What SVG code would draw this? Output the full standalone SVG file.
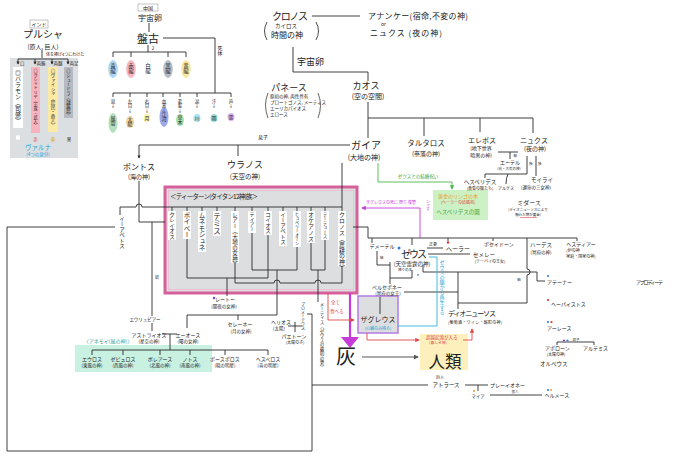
<svg xmlns="http://www.w3.org/2000/svg" width="680" height="460" viewBox="0 0 680 460">
<defs>
<style>
text{font-family:"Noto Sans CJK JP","Noto Sans",sans-serif;fill:#222}
.m{text-anchor:middle}
.v{writing-mode:vertical-rl;text-orientation:upright}
.ln{fill:none;stroke:#2b2b2b;stroke-width:0.9}
.strip{fill:#fff}
.red{fill:#e04848}
.cy{fill:#1fa6d6}
.mg{fill:#c63ad8}
.gr{fill:#3fa63f}
</style>
<marker id="ah" viewBox="0 0 6 6" refX="5" refY="3" markerWidth="5" markerHeight="5" orient="auto"><path d="M0,0 L6,3 L0,6 z" fill="#2b2b2b"/></marker>
<marker id="ahs" viewBox="0 0 6 6" refX="5" refY="3" markerWidth="3.5" markerHeight="3.5" orient="auto"><path d="M0,0 L6,3 L0,6 z" fill="#2b2b2b"/></marker>
<marker id="ahR" viewBox="0 0 6 6" refX="5" refY="3" markerWidth="5" markerHeight="5" orient="auto"><path d="M0,0 L6,3 L0,6 z" fill="#e04848"/></marker>
<marker id="ahG" viewBox="0 0 6 6" refX="5" refY="3" markerWidth="5" markerHeight="5" orient="auto"><path d="M0,0 L6,3 L0,6 z" fill="#4cb84c"/></marker>
<marker id="ahM" viewBox="0 0 6 6" refX="5" refY="3" markerWidth="5" markerHeight="5" orient="auto"><path d="M0,0 L6,3 L0,6 z" fill="#c63ad8"/></marker>
<marker id="ahK" viewBox="0 0 6 6" refX="5" refY="3" markerWidth="5" markerHeight="5" orient="auto"><path d="M0,0 L6,3 L0,6 z" fill="#555"/></marker>
</defs>
<rect width="680" height="460" fill="#fff"/>

<!-- ===== backgrounds ===== -->
<rect x="10" y="58" width="68" height="100" fill="#dcdfe2"/>
<rect x="165" y="187" width="192" height="106" fill="#dcdee0" stroke="#d5609a" stroke-width="3"/>
<rect x="168.5" y="190.5" width="185" height="99" fill="none" stroke="#f2b8d4" stroke-width="0.8"/>
<rect x="75" y="345" width="137" height="27" fill="#c9f1e1"/>
<rect x="433" y="190" width="55" height="30" fill="#ccf1c4"/>
<rect x="420" y="334" width="48" height="36" fill="#fdf0bd"/>
<rect x="358" y="296" width="40" height="37" fill="#dcdee0" stroke="#b27be6" stroke-width="1.5"/>

<!-- ===== connectors ===== -->
<g id="connectors">
<path class="ln" d="M42 50 V58"/>
<path class="ln" d="M18 59 H68 V64" marker-end="url(#ahs)"/>
<path class="ln" d="M18 59 V64" marker-end="url(#ahs)"/>
<path class="ln" d="M35 59 V64" marker-end="url(#ahs)"/>
<path class="ln" d="M52 59 V64" marker-end="url(#ahs)"/>
<path class="ln" d="M149 23 V32"/>
<path class="ln" d="M163 38 H215 V93"/>
<path class="ln" d="M148 45 V52 M113 57 V52 H186 V57 M131 52 V57 M168 52 V57"/>
<path class="ln" d="M113 97 V93 H231 V97 M130 93 V97 M147 93 V97 M163 93 V97 M180 93 V97 M197 93 V97"/>
<path class="ln" d="M312 16 H360"/>
<path class="ln" d="M293 47 V72 H368 V81"/>
<path class="ln" d="M368 102 V138"/>
<path class="ln" d="M368 118 H533 M424 118 V136 M480 118 V132 M533 118 V133"/>
<path class="ln" d="M498 152 H518 M510 152 V159"/>
<path class="ln" d="M527 156 V174 H485 V178 M508 174 Q506 178 506 184 M536 156 V176"/>
<path class="ln" d="M350 145 H139 V158" marker-end="url(#ahs)"/>
<path class="ln" d="M238 145 V156"/>
<path class="ln" d="M342 163 V211"/>
<path d="M378 163 V182 H452 V189" fill="none" stroke="#4cb84c" stroke-width="0.9" marker-end="url(#ahG)"/>
<path class="ln" d="M120 215 V207 H136 A3 3 0 0 1 142 207 H342"/>
<path class="ln" d="M172 207 V211 M187 207 V211 M202 207 V211 M217 207 V211 M235 207 V211 M252 207 V211 M268 207 V211 M283 207 V211 M297 207 V211 M311 207 V211 M325 207 V211"/>
<path class="ln" d="M139 181 V222 H165 M152 222 V316"/>
<path class="ln" d="M115 227 H7 V451 H312 V314 H307"/>
<path class="ln" d="M312 385 H428"/>
<path class="ln" d="M187 238 V278 H268 V235 M227 278 V296"/>
<path class="ln" d="M252 228 V270 H297 V245 M277 270 V315 H187 V328 M238 315 V320"/>
<path class="ln" d="M311 242 V270 H325 V238 M318 270 V302"/>
<path class="ln" d="M235 262 V283 H274 A3 3 0 0 1 280 283 H315 A3 3 0 0 1 321 283 H342 V265"/>
<path class="ln" d="M295 322 V332 M288 326 H302"/>
<path class="ln" d="M152 323 V331 M162 334 H177 M170 334 V350"/>
<path class="ln" d="M92 355 V350 H268 V355 M123 350 V355 M160 350 V355 M190 350 V355 M225 350 V355"/>
<path class="ln" d="M353 227 H368 V238 H577"/>
<path class="ln" d="M372 238 V243 M412 238 V245 M448 238 V241 M493 238 V241 M577 238 V241"/>
<path class="ln" d="M527 238 V269 A3 3 0 0 1 527 275 V303 H458"/>
<path class="ln" d="M377 251 V265 H390 M390 262 V284 M412 270 V278 H390"/>
<path class="ln" d="M380 297 V314"/>
<path class="ln" d="M404 292 H458"/>
<path class="ln" d="M427 248 H443"/>
<path class="ln" d="M428 254 H470"/>
<path class="ln" d="M423 265 V272 H537 V281 H545"/>
<path class="ln" d="M458 272 V309"/>
<path class="ln" d="M557 345 V342 H594 V345"/>
<path class="ln" d="M465 385 H488 M478 385 V391 M490 395 H542"/>
<path d="M420 238 V208 H362" fill="none" stroke="#c63ad8" stroke-width="0.9" marker-end="url(#ahM)"/>
<path d="M350 293 V338" fill="none" stroke="#c63ad8" stroke-width="2.2"/>
<polygon points="341,337 359,337 350,348" fill="#c63ad8"/>
<path d="M328 293 V320 H354" fill="none" stroke="#e04848" stroke-width="0.9" marker-end="url(#ahR)"/>
<path d="M367 333 V340 H419" fill="none" stroke="#e04848" stroke-width="0.9" marker-end="url(#ahR)"/>
<path d="M463 340 H472 V329" fill="none" stroke="#e04848" stroke-width="0.9" marker-end="url(#ahR)"/>
<path d="M398 326 H437 V257 H429" fill="none" stroke="#2fb3dc" stroke-width="0.9"/>
<path d="M362 357 H418" fill="none" stroke="#555" stroke-width="1" marker-end="url(#ahK)"/>
</g>

<!-- ===== India ===== -->
<g id="india">
<rect x="30" y="20" width="18" height="8" fill="#fff" stroke="#888" stroke-width="0.5"/>
<text x="39" y="26.3" class="m" font-size="5">インド</text>
<text x="43" y="38" class="m" font-size="10">プルシャ</text>
<text x="43" y="48.5" class="m" font-size="6">(原人, 巨人)</text>
<text x="46" y="55.5" font-size="4">体を捧げ4つにわけた</text>
<text x="20" y="65" font-size="4.5">口</text>
<text x="36.5" y="65" font-size="4.5">両腕</text>
<text x="53.5" y="65" font-size="4.5">両腿</text>
<text x="69.5" y="65" font-size="4.5">両足</text>
<rect x="13" y="67" width="10" height="61" fill="#fff"/>
<rect x="31" y="67" width="9" height="66" fill="#f7b3be"/>
<rect x="48" y="67" width="10" height="65" fill="#fbeaa5"/>
<rect x="64" y="67" width="9" height="51" fill="#b6b9c0"/>
<text x="18" y="70" class="v" font-size="6">◎バラモン（司祭）</text>
<text x="35.5" y="69" class="v" font-size="4.2">◎クシャトリヤ（王族・武人）</text>
<text x="53" y="69" class="v" font-size="4.5">◎ヴァイシャ（庶民・商人）</text>
<text x="68.5" y="69" class="v" font-size="4.4">◎シュードラ（隷属民）</text>
<rect x="16" y="135.5" width="4" height="4" fill="#fff"/>
<text x="35.5" y="140.5" class="m red" font-size="4.5">赤</text>
<text x="53" y="140.5" class="m" font-size="4.5" style="fill:#d9a800">黄</text>
<text x="69" y="140.5" class="m" font-size="4.5">黒</text>
<text x="38" y="150" class="m cy" font-size="6.5">ヴァルナ</text>
<text x="38" y="156" class="m cy" font-size="4.5">(4つの身分)</text>
</g>

<!-- ===== China ===== -->
<g id="china">
<rect x="138" y="4" width="20" height="7" fill="#fff" stroke="#888" stroke-width="0.5"/>
<text x="148" y="9.8" class="m" font-size="5">中国</text>
<text x="150" y="21" class="m" font-size="8">宇宙卵</text>
<text x="148" y="43" class="m" font-size="11">盤古</text>
<text x="153" y="50" class="m" font-size="4.5">2</text>
<text x="220" y="46" class="v" font-size="5">死体</text>
<ellipse cx="113" cy="69" rx="4.8" ry="9" fill="#a9d4f5"/>
<ellipse cx="131" cy="69" rx="4.8" ry="9" fill="#f7b6c2"/>
<ellipse cx="148" cy="69" rx="4.8" ry="9" fill="#fff"/>
<ellipse cx="168" cy="69" rx="4.8" ry="9" fill="#b9bcc4"/>
<ellipse cx="186" cy="69" rx="4.8" ry="9" fill="#fbe7a1"/>
<text x="113" y="63" class="v" font-size="5.5">青龍</text>
<text x="131" y="63" class="v" font-size="5.5">赤龍</text>
<text x="148" y="63" class="v" font-size="5.5">白龍</text>
<text x="168" y="63" class="v" font-size="5.5">黒龍</text>
<text x="186" y="63" class="v" font-size="5.5">黄龍</text>
<ellipse cx="113" cy="123" rx="4.5" ry="10" fill="#b5dfc0"/>
<ellipse cx="130" cy="122" rx="4" ry="6" fill="#f9d49a"/>
<ellipse cx="147" cy="118" rx="3.5" ry="4" fill="#fdf1a6"/>
<ellipse cx="164" cy="117" rx="4.5" ry="10" fill="#9fa8e6"/>
<ellipse cx="180" cy="120" rx="4" ry="6" fill="#a8e2a8"/>
<ellipse cx="197" cy="118" rx="3.5" ry="4" fill="#a6e1f5"/>
<ellipse cx="214" cy="118" rx="3.5" ry="4" fill="#9ad8d0"/>
<ellipse cx="231" cy="117" rx="3.5" ry="4" fill="#d7b3f3"/>
<text x="113" y="99" class="v" font-size="4.5">息↓</text>
<text x="113" y="116" class="v" font-size="5">風雲</text>
<text x="130" y="99" class="v" font-size="4.5">左目↓</text>
<text x="130" y="117" class="v" font-size="5">太陽</text>
<text x="147" y="99" class="v" font-size="4.5">右目↓</text>
<text x="147" y="115.5" class="v" font-size="5">月</text>
<text x="164" y="99" class="v" font-size="4.5">血液↓</text>
<text x="164" y="112" class="v" font-size="5">江河</text>
<text x="180" y="99" class="v" font-size="4.5">毛髪↓</text>
<text x="180" y="115" class="v" font-size="5">草木</text>
<text x="197" y="99" class="v" font-size="4.5">涙↓</text>
<text x="197" y="115.5" class="v" font-size="5">川</text>
<text x="214" y="99" class="v" font-size="4.5">汗↓</text>
<text x="214" y="115.5" class="v" font-size="5">雨</text>
<text x="231" y="99" class="v" font-size="4.5">声↓</text>
<text x="231" y="114.5" class="v" font-size="5">雷</text>
</g>

<!-- ===== Greek primordials ===== -->
<g id="chronos">
<text x="290" y="20" class="m" font-size="10" textLength="36">クロノス</text>
<path d="M267 22 Q262 31 267 40 M316 22 Q321 31 316 40" fill="none" stroke="#222" stroke-width="0.8"/>
<text x="286" y="28" class="m" font-size="5.5">カイロス</text>
<text x="287" y="38" class="m" font-size="8">時間の神</text>
</g>
<g id="ananke">
<text x="368" y="19" font-size="8" textLength="100">アナンケー(宿命,不変の神)</text>
<text x="381" y="25.5" font-size="5">or</text>
<text x="370" y="36" font-size="8" textLength="72">ニュクス (夜の神)</text>
</g>
<text x="297" y="65" font-size="9">宇宙卵</text>
<g id="phanes">
<text x="289" y="91" class="m" font-size="9">パネース</text>
<path d="M268 93 Q263 105 268 118 M318 93 Q323 105 318 118" fill="none" stroke="#222" stroke-width="0.7"/>
<text x="270" y="98" font-size="4.5">原初の神, 両性具有</text>
<text x="270" y="104" font-size="4.5">プロートゴノス, メーティス</text>
<text x="270" y="110" font-size="4.5">エーリカパイオス</text>
<text x="270" y="116" font-size="4.5">エロース</text>
</g>
<g id="chaos">
<text x="366" y="89" class="m" font-size="9">カオス</text>
<text x="368" y="99" class="m" font-size="7">(空の空間)</text>
</g>
<g id="tartaros">
<text x="426" y="146" class="m" font-size="7.5">タルタロス</text>
<text x="426" y="156" class="m" font-size="6">(奈落の神)</text>
</g>
<g id="erebos">
<text x="482" y="143" class="m" font-size="7">エレボス</text>
<text x="481" y="150" class="m" font-size="5">(地下世界</text>
<text x="481" y="156.5" class="m" font-size="5">暗黒の神)</text>
</g>
<g id="nyx">
<text x="534" y="143" class="m" font-size="7">ニュクス</text>
<text x="535" y="151" class="m" font-size="6">(夜の神)</text>
<text x="513.5" y="157" font-size="3.5">結</text>
<text x="529" y="165" font-size="3.5">独</text>
<text x="538" y="165" font-size="3.5">独</text>
</g>
<g id="aether">
<text x="510" y="164" class="m" font-size="5">エーテル</text>
<text x="509" y="170" class="m" font-size="3.5">(光・大気の神)</text>
</g>
<g id="hesperides">
<text x="480" y="184" class="m" font-size="5.5">ヘスペリデス</text>
<text x="480" y="190" class="m" font-size="4">(黄昏の娘たち)</text>
</g>
<text x="506" y="190" class="m" font-size="4">アルゲス</text>
<g id="moirai">
<text x="542" y="182" class="m" font-size="5.5">モイライ</text>
<text x="536" y="189" class="m" font-size="4.5">(運命の三女神)</text>
</g>
<g id="midas">
<text x="529" y="205" class="m" font-size="6">ミダース</text>
<text x="528" y="211" class="m" font-size="3.5">(ディオニューソスにより</text>
<text x="528" y="216" class="m" font-size="3.5">触れた物が黄金)</text>
<path d="M520 217.5 H537" stroke="#e04848" stroke-width="0.6"/>
</g>
<g id="gaia">
<text x="366" y="149" class="m" font-size="10">ガイア</text>
<text x="364" y="160" class="m" font-size="7">(大地の神)</text>
<text x="418" y="178" class="m gr" font-size="4.5">ゼウスとの結婚祝い</text>
</g>
<g id="garden">
<text x="458" y="198" class="m" font-size="5" style="fill:#ee9a20">黄金のリンゴの木</text>
<text x="458" y="204" class="m red" font-size="4">(ヘーラーの結婚祝)</text>
<text x="458" y="214" class="m gr" font-size="5.5">ヘスペリデスの園</text>
</g>
<text x="263" y="139" class="m" font-size="5">息子</text>
<g id="pontos">
<text x="139" y="170" class="m" font-size="8">ポントス</text>
<text x="139" y="178.5" class="m" font-size="6">(海の神)</text>
</g>
<g id="ouranos">
<text x="245" y="167.5" class="m" font-size="9">ウラノス</text>
<text x="245" y="178.5" class="m" font-size="6.5">(天空の神)</text>
</g>

<!-- ===== Titans ===== -->
<g id="titans">
<text x="170" y="199" font-size="6.5" textLength="88">＜ティーターン(タイタン12神)族＞</text>
<rect x="168" y="211" width="8" height="29" class="strip"/>
<rect x="183" y="211" width="8" height="28" class="strip"/>
<rect x="198" y="211" width="8" height="41" class="strip"/>
<rect x="213" y="211" width="8" height="25" class="strip"/>
<rect x="231" y="211" width="8" height="52" class="strip"/>
<rect x="248" y="211" width="8" height="22" class="strip"/>
<rect x="264" y="211" width="8" height="24" class="strip"/>
<rect x="279" y="211" width="8" height="35" class="strip"/>
<rect x="293" y="211" width="8" height="36" class="strip"/>
<rect x="307" y="211" width="8" height="32" class="strip"/>
<rect x="321" y="211" width="8" height="29" class="strip"/>
<rect x="338" y="211" width="8" height="55" class="strip"/>
<text x="172" y="212" class="v" font-size="5.5">クレイオス</text>
<text x="187" y="212" class="v" font-size="6.5">ポイベー</text>
<text x="202" y="212" class="v" font-size="6.5">ムネモシュネ</text>
<text x="217" y="212" class="v" font-size="7.5">テミス</text>
<text x="235" y="212" class="v" font-size="5.5">レアー（大地の女神）</text>
<text x="252" y="212" class="v" font-size="5">テイアー</text>
<text x="268" y="212" class="v" font-size="5.5">コイオス</text>
<text x="283" y="212" class="v" font-size="5.5">イーアペトス</text>
<text x="297" y="212" class="v" font-size="4.2">ヒュペリーオーン</text>
<text x="311" y="212" class="v" font-size="6">オケアノス</text>
<text x="325" y="212" class="v" font-size="4.5">テーテュース</text>
<text x="342" y="212" class="v" font-size="5.9">クロノス（農耕の神）</text>
</g>
<g id="iapetos">
<text x="122" y="216" class="v" font-size="5.5">イーアペトス</text>
</g>
<text x="157" y="279" class="m" font-size="4">結</text>

<!-- ===== second generation ===== -->
<g id="leto">
<circle cx="214" cy="298" r="1.2" fill="#7a3ad8"/>
<text x="225" y="301" class="m" font-size="5">レートー</text>
<text x="224" y="308" class="m" font-size="4.5">(闇夜の女神)</text>
</g>
<g id="helios">
<text x="281" y="324" class="m" font-size="5">ヘリオス</text>
<text x="279" y="330" class="m" font-size="4.5">(太陽)</text>
</g>
<g id="phaethon">
<text x="294" y="338" class="m" font-size="5">パエトーン</text>
<text x="295" y="344" class="m" font-size="4">(太陽の子)</text>
</g>
<g id="selene">
<text x="240" y="326" class="m" font-size="5">セレーネー</text>
<text x="241" y="333" class="m" font-size="4.5">(月の女神)</text>
</g>
<g id="eos">
<text x="188" y="337" class="m" font-size="5">エーオース</text>
<text x="188" y="343" class="m" font-size="4.5">(曙の女神)</text>
</g>
<g id="astraios">
<text x="149" y="337" class="m" font-size="5">アストライオス</text>
<text x="149" y="343" class="m" font-size="4.5">(星空の神)</text>
</g>
<g id="eurybia"><text x="145" y="321" class="m" font-size="4.5">エウリュビアー</text></g>
<g id="anemoi">
<text x="108" y="343" class="m" font-size="5" style="fill:#2f9e98">〈アネモイ(風の神)〉</text>
<text x="92" y="361" class="m" font-size="5">エウロス</text>
<text x="92" y="367" class="m" font-size="4.5">(東風の神)</text>
<text x="123" y="361" class="m" font-size="5">ゼピュロス</text>
<text x="123" y="367" class="m" font-size="4.5">(西風の神)</text>
<text x="160" y="361" class="m" font-size="5">ボレアース</text>
<text x="160" y="367" class="m" font-size="4.5">(北風の神)</text>
<text x="190" y="361" class="m" font-size="5">ノトス</text>
<text x="190" y="367" class="m" font-size="4.5">(南風の神)</text>
</g>
<g id="phosphoros">
<text x="225" y="361" class="m" font-size="5">ポースポロス</text>
<text x="225" y="367" class="m" font-size="4.5">(暁の明星)</text>
</g>
<g id="hesperos">
<text x="268" y="361" class="m" font-size="5">ヘスペロス</text>
<text x="268" y="367" class="m" font-size="4.5">(宵の明星)</text>
</g>
<g id="prometheus"><text x="303" y="302" class="v" font-size="4">プロメーテウス</text></g>
<g id="metis"><text x="322" y="302" class="v" font-size="4.5">メーティス（ゼウスの最初の妻）</text></g>
<g id="atlas">
<text x="440" y="379" class="m" font-size="4">巨人</text>
<text x="446" y="387" class="m" font-size="5.5">アトラース</text>
</g>
<g id="pleione"><text x="490" y="387" font-size="5">プレーイオネー</text></g>
<g id="maia">
<circle cx="474" cy="391" r="1.1" fill="#f0a030"/>
<text x="478" y="398" class="m" font-size="4.5">マイア</text>
<text x="515" y="393" class="m" font-size="3.5">恋人</text>
</g>
<g id="hermes">
<circle cx="548" cy="390" r="1.1" fill="#2f7fe0"/>
<circle cx="551" cy="390" r="1.1" fill="#f0a030"/>
<text x="557" y="397" class="m" font-size="5">ヘルメース</text>
</g>

<!-- ===== Olympians ===== -->
<g id="demeter">
<text x="382" y="248" class="m" font-size="5">デメーテル</text>
<text x="380" y="259" font-size="3.5">結</text>
</g>
<g id="zeus">
<circle cx="399" cy="248" r="1.5" fill="#2f7fe0"/>
<text x="414" y="258" class="m" font-size="10" textLength="26">ゼウス</text>
<text x="412" y="265.5" class="m" font-size="5.5">(天空雷霆の神)</text>
<text x="405" y="271" class="m" font-size="3.5">神々の王</text>
<text x="418" y="278" class="m" font-size="5">*</text>
</g>
<g id="hera">
<text x="433" y="246" class="m" font-size="4">正妻</text>
<circle cx="448" cy="242.5" r="1.2" fill="#e03030"/>
<text x="446" y="251" font-size="6">ヘーラー</text>
</g>
<g id="semele">
<text x="473" y="257" font-size="5.5">セメレー</text>
<text x="490" y="263" class="m" font-size="4">(テーバイの王女)</text>
</g>
<g id="poseidon"><text x="499" y="246" class="m" font-size="5">ポセイドーン</text></g>
<g id="hades">
<text x="541" y="247" class="m" font-size="5.5">ハーデス</text>
<text x="541" y="254" class="m" font-size="4.5">(冥府の神)</text>
<text x="519" y="281" class="m" font-size="3.5">結</text>
</g>
<g id="hestia">
<text x="581" y="246" class="m" font-size="5">ヘスティアー</text>
<text x="573" y="252" class="m" font-size="4">(炉の神</text>
<text x="581" y="257.5" class="m" font-size="4">家庭・国家の神)</text>
</g>
<g id="persephone">
<text x="387" y="289" class="m" font-size="5">ペルセポネー</text>
<text x="388" y="295" class="m" font-size="4.5">(冥府の女王)</text>
</g>
<g id="dionysos">
<text x="448" y="316" font-size="7" textLength="48">ディオニューソス</text>
<text x="448" y="324" font-size="4" textLength="54">(葡萄酒・ワイン・酩酊の神)</text>
</g>
<g id="athena">
<circle cx="548" cy="276" r="1.1" fill="#2f7fe0"/>
<text x="547" y="284" font-size="5">アテーナー</text>
</g>
<g id="aphrodite"><text x="636" y="284" font-size="5" textLength="27">アプロディーテ</text></g>
<g id="hephaistos">
<circle cx="548" cy="300" r="1.1" fill="#e03030"/>
<text x="551" y="306" font-size="5">ヘーパイストス</text>
</g>
<g id="ares">
<circle cx="548" cy="322" r="1.1" fill="#2f7fe0"/>
<circle cx="551.5" cy="322" r="1.1" fill="#e03030"/>
<text x="547" y="330" font-size="5">アーレース</text>
</g>
<g id="twins">
<circle cx="564" cy="340.5" r="1.1" fill="#7a3ad8"/>
<circle cx="567.5" cy="340.5" r="1.1" fill="#2f7fe0"/>
<text x="576" y="340.5" class="m" font-size="3.5">双子</text>
</g>
<g id="apollon">
<text x="545" y="350" font-size="5">アポローン</text>
<text x="556" y="356" class="m" font-size="4">(太陽の神)</text>
</g>
<g id="artemis"><text x="583" y="350" font-size="5">アルテミス</text></g>
<g id="orpheus"><text x="540" y="366" font-size="5.5">オルペウス</text></g>

<!-- ===== Orphic story ===== -->
<g id="revenge">
<text x="366" y="204" class="mg" font-size="4" textLength="50">ザグレウスの死に 怒り 復讐</text>
<text x="428" y="199" class="v mg" font-size="4">シャす</text>
</g>
<g id="eat">
<text x="331" y="304" class="red" font-size="4.5">全て</text>
<text x="330" y="313" class="red" font-size="4.5">食べる</text>
</g>
<g id="zagreus">
<text x="378" y="322" class="m" font-size="7">ザグレウス</text>
<text x="378" y="329.5" class="m cy" font-size="4">(心臓のみ残る)</text>
</g>
<text x="442" y="260" class="v cy" font-size="5">ゼウスの腿から再生する</text>
<g id="ash"><text x="346" y="364" class="m" font-size="20">灰</text></g>
<g id="mankind">
<text x="426" y="338.5" class="red" font-size="4.5">超越起源が入る</text>
<text x="438" y="344" class="m red" font-size="3.8">(悪しき神)</text>
<text x="445" y="367.5" class="m" font-size="16.5">人類</text>
</g>
</svg>
